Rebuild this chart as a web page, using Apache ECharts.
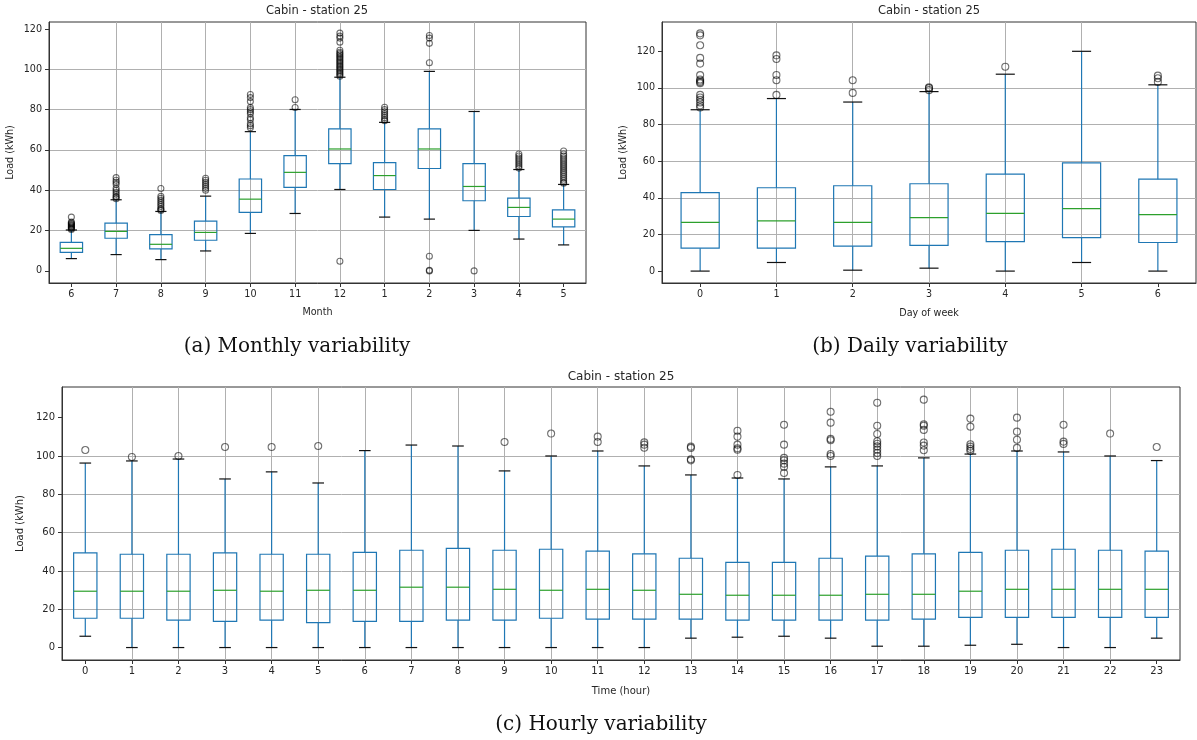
<!DOCTYPE html>
<html>
<head>
<meta charset="utf-8">
<script src="https://cdn.jsdelivr.net/npm/echarts@6/dist/echarts.min.js"></script>
<style>
  html, body { margin: 0; padding: 0; background: #fff; }
  #main { width: 1197px; height: 740px; }
</style>
</head>
<body>
<div id="main"></div>
<script>
// box stats per category: [lower whisker, q1, median, q3, upper whisker]
const monthCats = ['6', '7', '8', '9', '10', '11', '12', '1', '2', '3', '4', '5'];
const monthBox = [
  [6.1, 9.2, 11.2, 14.2, 20.3],
  [8.1, 16.2, 19.6, 23.7, 35.3],
  [5.6, 10.9, 13.2, 18.0, 29.5],
  [9.9, 15.2, 19.1, 24.7, 37.1],
  [18.6, 29.0, 35.6, 45.6, 69.1],
  [28.5, 41.4, 48.9, 57.2, 80.1],
  [40.4, 53.2, 60.5, 70.5, 96.1],
  [26.7, 40.4, 47.3, 53.7, 73.7],
  [25.7, 50.8, 60.5, 70.5, 99.0],
  [20.1, 34.8, 41.9, 53.2, 79.1],
  [15.8, 27.0, 31.5, 36.1, 50.3],
  [12.9, 21.8, 25.7, 30.3, 42.9]
];
const monthOutliers = [
  [20.6, 21, 21.4, 21.8, 22.2, 22.6, 23, 23.4, 23.8, 24.2, 26.7],
  [35.8, 36.5, 37, 38, 39, 40, 41, 43, 44, 45, 46.3],
  [30, 30.5, 31, 32, 33, 34, 35, 36, 37, 40.9],
  [40, 41, 42, 43, 44, 45, 46],
  [71, 72, 73, 75, 76, 78, 79, 80, 81, 84, 86, 87.5],
  [81.1, 84.9],
  [4.8, 96.6, 97.3, 98, 98.7, 99.4, 100.1, 100.8, 101.5, 102.2, 102.9, 103.6, 104.3, 105, 105.7, 106.4, 107.1, 107.8, 108.5, 109.5, 113.5, 115.5, 116.5, 118],
  [74.5, 75, 76, 77, 78, 79, 80, 81.2],
  [0, 0.3, 7.3, 103.3, 112.9, 115.5, 116.8],
  [0],
  [51, 52, 53, 54, 55, 56, 57, 58],
  [43.5, 44, 45, 46, 47, 48, 49, 50, 51, 52, 53, 54, 55, 56, 57, 58, 59.5]
];

const dayCats = ['0', '1', '2', '3', '4', '5', '6'];
const dayBox = [
  [0, 12.5, 26.6, 42.8, 88.1],
  [4.7, 12.5, 27.4, 45.5, 94.2],
  [0.5, 13.6, 26.6, 46.6, 92.3],
  [1.6, 14.0, 29.2, 47.7, 98.0],
  [0, 16.1, 31.5, 52.9, 107.5],
  [4.7, 18.3, 34.1, 59.1, 120.0],
  [0, 15.6, 30.8, 50.2, 101.7]
];
const dayOutliers = [
  [89.3, 90.5, 92.1, 93.5, 94.8, 96.2, 102.6, 103.2, 103.9, 104.6, 107, 113.3, 116.4, 123.3, 128.7, 129.8],
  [96.2, 104.2, 107.1, 115.8, 117.8],
  [97.3, 104.2],
  [98.8, 99.9, 100.3],
  [111.6],
  [],
  [103.3, 105.3, 106.7]
];

const hourCats = ['0', '1', '2', '3', '4', '5', '6', '7', '8', '9', '10', '11',
  '12', '13', '14', '15', '16', '17', '18', '19', '20', '21', '22', '23'];
const hourBox = [
  [5.9, 15.3, 29.4, 49.4, 96.3],
  [0, 15.3, 29.4, 48.7, 97.4],
  [0, 14.3, 29.4, 48.7, 98.4],
  [0, 13.7, 29.9, 49.4, 88.0],
  [0, 14.3, 29.4, 48.7, 91.7],
  [0, 13.0, 29.9, 48.7, 85.9],
  [0, 13.7, 29.9, 49.7, 102.8],
  [0, 13.7, 31.5, 50.8, 105.7],
  [0, 14.3, 31.5, 51.8, 105.2],
  [0, 14.3, 30.4, 50.8, 92.2],
  [0, 15.3, 29.9, 51.3, 100],
  [0, 14.8, 30.4, 50.3, 102.6],
  [0, 14.8, 29.9, 48.9, 94.8],
  [4.9, 14.8, 27.8, 46.6, 90.1],
  [5.4, 14.3, 27.3, 44.5, 88.5],
  [5.9, 14.3, 27.3, 44.5, 88.0],
  [4.9, 14.3, 27.3, 46.6, 94.3],
  [0.7, 14.3, 27.8, 47.7, 94.8],
  [0.7, 14.8, 27.8, 48.9, 99.0],
  [1.2, 15.8, 29.4, 49.7, 101.0],
  [1.7, 15.8, 30.4, 50.8, 102.6],
  [0, 15.8, 30.4, 51.3, 102.1],
  [0, 15.8, 30.4, 50.8, 100],
  [4.9, 15.8, 30.4, 50.3, 97.6]
];
const hourOutliers = [
  [103.1], [99.5], [100], [104.7], [104.7], [105.2], [], [], [],
  [107.3], [111.7], [107.3, 110.1], [104.3, 105.9, 107.1],
  [97.7, 98.3, 104.2, 104.9],
  [90.1, 103.3, 104, 105.9, 110.1, 113.2],
  [91.1, 94.3, 96, 97.7, 99, 105.9, 116.3],
  [100, 101, 108.2, 108.9, 117.4, 123.1],
  [100, 101.6, 103.3, 105, 106.4, 107.7, 111.5, 115.8, 127.8],
  [103, 105.4, 107, 113.6, 115.8, 116.5, 129.4],
  [102.6, 103.7, 104.9, 106.1, 115.3, 119.5],
  [104.2, 108.5, 112.7, 120],
  [106.3, 107.5, 116.3],
  [111.7],
  [104.7]
];

const yTicks = [0, 20, 40, 60, 80, 100, 120];

const FONT = 'DejaVu Sans';
const TXT = '#262626';
const BLUE = '#1f77b4';
const GREEN = '#2ca02c';

function renderBox(params, api) {
  const i = api.value(0);
  const unit = api.size([1, 0])[0];
  const bw = unit * 0.5;
  const cw = unit * 0.25;
  const x = api.coord([i, 0])[0];
  const yLo = api.coord([i, api.value(1)])[1];
  const yQ1 = api.coord([i, api.value(2)])[1];
  const yMed = api.coord([i, api.value(3)])[1];
  const yQ3 = api.coord([i, api.value(4)])[1];
  const yHi = api.coord([i, api.value(5)])[1];
  const blue = { stroke: BLUE, lineWidth: 1.2, fill: null };
  const black = { stroke: '#111', lineWidth: 1.2 };
  return {
    type: 'group',
    children: [
      { type: 'line', shape: { x1: x, y1: yQ1, x2: x, y2: yLo }, style: blue },
      { type: 'line', shape: { x1: x, y1: yQ3, x2: x, y2: yHi }, style: blue },
      { type: 'rect', shape: { x: x - bw / 2, y: yQ3, width: bw, height: yQ1 - yQ3 }, style: blue },
      { type: 'line', shape: { x1: x - bw / 2, y1: yMed, x2: x + bw / 2, y2: yMed }, style: { stroke: GREEN, lineWidth: 1.2 } },
      { type: 'line', shape: { x1: x - cw / 2, y1: yLo, x2: x + cw / 2, y2: yLo }, style: black },
      { type: 'line', shape: { x1: x - cw / 2, y1: yHi, x2: x + cw / 2, y2: yHi }, style: black }
    ]
  };
}

function xAxisFor(gi, cats, name, gap, fs) {
  const idx = cats.map((c, i) => i);
  return {
    type: 'value', gridIndex: gi, min: -0.5, max: cats.length - 0.5,
    minInterval: 1, maxInterval: 1,
    name: name, nameLocation: 'middle', nameGap: gap,
    nameTextStyle: { fontFamily: FONT, fontSize: fs, color: TXT },
    axisLine: { show: true, onZero: false, lineStyle: { color: '#333', width: 1 } },
    axisTick: { show: true, length: 4, customValues: idx, lineStyle: { color: '#333' } },
    axisLabel: {
      margin: 6, fontFamily: FONT, fontSize: fs, color: TXT,
      customValues: idx,
      formatter: v => (Number.isInteger(v) && cats[v] !== undefined) ? cats[v] : ''
    },
    splitLine: { show: true, showMinLine: false, showMaxLine: false, lineStyle: { color: '#b0b0b0', width: 1 } }
  };
}

function yAxisFor(gi, min, max, gap, fs) {
  return {
    type: 'value', gridIndex: gi, min: min, max: max,
    minInterval: 20, maxInterval: 20,
    name: 'Load (kWh)', nameLocation: 'middle', nameGap: gap, nameRotate: 90,
    nameTextStyle: { fontFamily: FONT, fontSize: fs, color: TXT },
    axisLine: { show: true, onZero: false, lineStyle: { color: '#333', width: 1 } },
    axisTick: { show: true, length: 4, customValues: yTicks, lineStyle: { color: '#333' } },
    axisLabel: {
      margin: 7, fontFamily: FONT, fontSize: fs, color: TXT,
      customValues: yTicks,
      formatter: v => (v % 20 === 0) ? String(v) : ''
    },
    splitLine: { show: true, showMinLine: false, showMaxLine: false, lineStyle: { color: '#b0b0b0', width: 1 } }
  };
}

function boxData(box) {
  return box.map((b, i) => [i].concat(b));
}
function outlierData(outs) {
  const pts = [];
  outs.forEach((list, i) => list.forEach(v => pts.push([i, v])));
  return pts;
}

function panelSeries(gi, box, outs, size) {
  return [
    {
      type: 'custom', xAxisIndex: gi, yAxisIndex: gi,
      renderItem: renderBox, data: boxData(box),
      encode: { x: 0, y: [1, 2, 3, 4, 5] }, z: 2
    },
    {
      type: 'scatter', xAxisIndex: gi, yAxisIndex: gi,
      data: outlierData(outs), symbol: 'circle', symbolSize: size,
      itemStyle: { color: 'rgba(0,0,0,0)', borderColor: 'rgba(0,0,0,0.7)', borderWidth: 1.1 },
      z: 3, silent: true
    }
  ];
}

const gridBase = { show: true, borderColor: '#333', borderWidth: 1, backgroundColor: 'transparent' };

const option = {
  animation: false,
  backgroundColor: '#fff',
  grid: [
    Object.assign({ left: 49, top: 22, width: 537, height: 261 }, gridBase),
    Object.assign({ left: 662, top: 22, width: 534, height: 261 }, gridBase),
    Object.assign({ left: 62, top: 387, width: 1118, height: 273 }, gridBase)
  ],
  xAxis: [
    xAxisFor(0, monthCats, 'Month', 24, 9.6),
    xAxisFor(1, dayCats, 'Day of week', 25, 9.6),
    xAxisFor(2, hourCats, 'Time (hour)', 26, 10)
  ],
  yAxis: [
    yAxisFor(0, -6, 123.5, 34, 9.6),
    yAxisFor(1, -6.5, 136, 34, 9.6),
    yAxisFor(2, -6.5, 136, 35, 10)
  ],
  series: []
    .concat(panelSeries(0, monthBox, monthOutliers, 6))
    .concat(panelSeries(1, dayBox, dayOutliers, 7))
    .concat(panelSeries(2, hourBox, hourOutliers, 7)),
  graphic: [
    { type: 'text', x: 317, y: 11, style: { text: 'Cabin - station 25', align: 'center', verticalAlign: 'middle', font: '11.5px "DejaVu Sans"', fill: TXT } },
    { type: 'text', x: 929, y: 11, style: { text: 'Cabin - station 25', align: 'center', verticalAlign: 'middle', font: '11.5px "DejaVu Sans"', fill: TXT } },
    { type: 'text', x: 621, y: 377, style: { text: 'Cabin - station 25', align: 'center', verticalAlign: 'middle', font: '12px "DejaVu Sans"', fill: TXT } },
    { type: 'text', x: 297, y: 347, style: { text: '(a) Monthly variability', align: 'center', verticalAlign: 'middle', font: '20px "DejaVu Serif"', fill: '#111' } },
    { type: 'text', x: 910, y: 347, style: { text: '(b) Daily variability', align: 'center', verticalAlign: 'middle', font: '20px "DejaVu Serif"', fill: '#111' } },
    { type: 'text', x: 601, y: 725, style: { text: '(c) Hourly variability', align: 'center', verticalAlign: 'middle', font: '20px "DejaVu Serif"', fill: '#111' } }
  ]
};

const chart = echarts.init(document.getElementById('main'), null, { renderer: 'canvas', width: 1197, height: 740 });
chart.setOption(option);
</script>
</body>
</html>
